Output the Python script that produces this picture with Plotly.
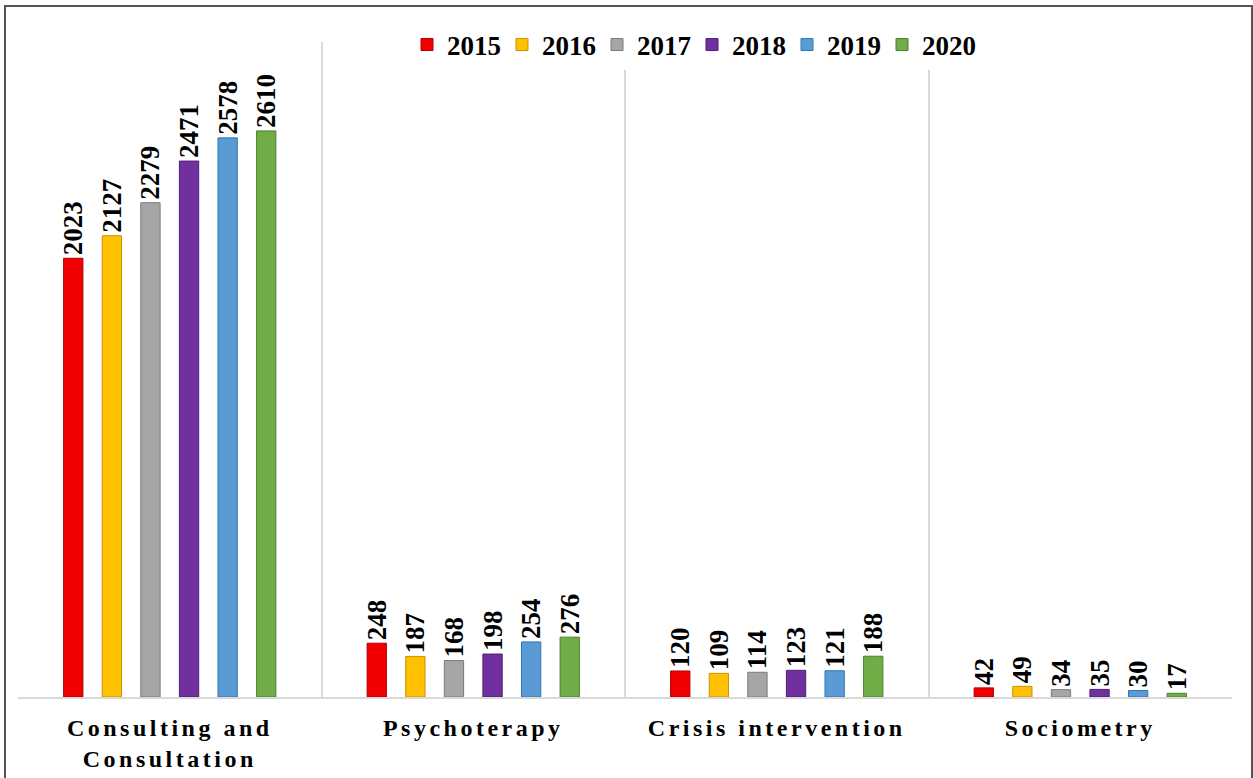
import plotly.graph_objects as go

# Service categories and yearly counts
categories = ["Consulting and<br>Consultation", "Psychoterapy", "Crisis intervention", "Sociometry"]
years = ["2015", "2016", "2017", "2018", "2019", "2020"]

values_2015 = [2023, 248, 120, 42]
values_2016 = [2127, 187, 109, 49]
values_2017 = [2279, 168, 114, 34]
values_2018 = [2471, 198, 123, 35]
values_2019 = [2578, 254, 121, 30]
values_2020 = [2610, 276, 188, 17]

series = [values_2015, values_2016, values_2017, values_2018, values_2019, values_2020]
fill_colors = ["#F00000", "#FFC000", "#A6A6A6", "#7030A0", "#5B9BD5", "#70AD47"]
edge_colors = ["#B00000", "#C89400", "#7A7A7A", "#4E1F72", "#2F75B5", "#4E7F30"]

SERIF = "Liberation Serif, Times New Roman, serif"

fig = go.Figure()
for name, vals, fc, ec in zip(years, series, fill_colors, edge_colors):
    fig.add_trace(go.Bar(
        name=name,
        x=categories,
        y=vals,
        marker=dict(color=fc, line=dict(color=ec, width=1)),
        text=[str(v) for v in vals],
        textposition="outside",
        textangle=-90,
        constraintext="none",
        cliponaxis=False,
        textfont=dict(family=SERIF, size=27, color="black", weight="bold"),
    ))

W, H = 1253, 778
L, R, T, B = 18, 21, 42, 81
pw, ph = W - L - R, H - T - B

fig.update_layout(
    width=W, height=H,
    margin=dict(l=L, r=R, t=T, b=B, pad=0, autoexpand=False),
    paper_bgcolor="white",
    plot_bgcolor="white",
    barmode="group",
    bargap=0.237,
    bargroupgap=0.5,
    showlegend=True,
    legend=dict(
        orientation="h",
        x=(692 - L) / pw, xanchor="center",
        y=(H - B - 45) / ph, yanchor="middle",
        bgcolor="white",
        font=dict(family=SERIF, size=27, color="black", weight="bold"),
        itemwidth=30,
        entrywidth=50,
        tracegroupgap=0,
    ),
    xaxis=dict(
        type="category",
        automargin=False,
        tickson="boundaries",
        range=[-0.5, len(categories) - 0.5],
        showgrid=True,
        gridcolor="#D9D9D9",
        gridwidth=2,
        showline=True,
        linecolor="#D9D9D9",
        linewidth=2,
        ticks="",
        tickfont=dict(family=SERIF, size=24, color="black", weight="bold"),
        ticklabelstandoff=8,
    ),
    yaxis=dict(
        automargin=False,
        range=[0, 3020],
        showgrid=False,
        zeroline=False,
        showticklabels=False,
        ticks="",
    ),
)

# Outer frame around the whole figure
fig.add_shape(
    type="rect", xref="paper", yref="paper",
    x0=(5 - L) / pw, x1=(1252 - L) / pw,
    y0=-0.3, y1=(H - B - 6) / ph,
    line=dict(color="#555555", width=2),
    fillcolor="rgba(0,0,0,0)",
    layer="above",
)

# Wider letter spacing for the category labels
letter_spacing_js = """
var s = document.createElement('style');
s.textContent = '.xtick text { letter-spacing: 3.5px; }';
document.head.appendChild(s);
"""

fig.write_html("out.html", post_script=letter_spacing_js)
